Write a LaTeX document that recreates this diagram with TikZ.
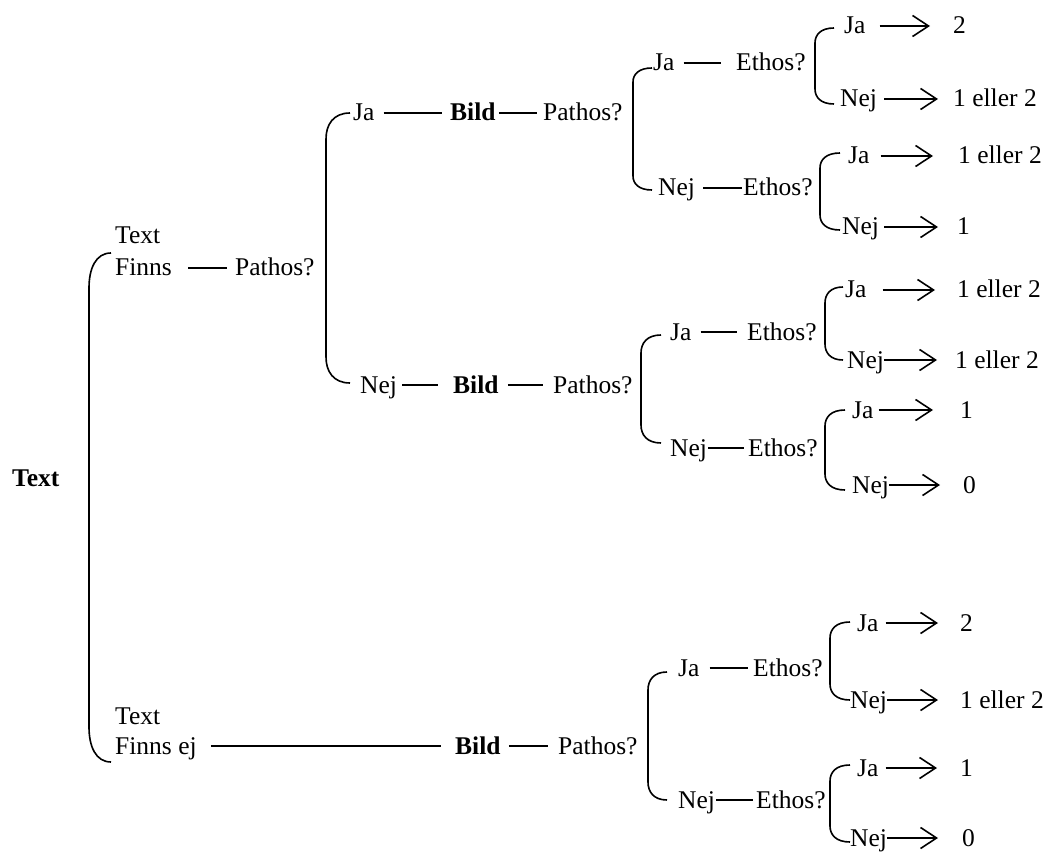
\documentclass[tikz,border=0pt]{standalone}
\usepackage{fontspec}
\setmainfont{Liberation Serif}
\usetikzlibrary{arrows.meta}

\tikzset{
  lbl/.style={anchor=west, inner sep=0pt, text height=21pt, text depth=5pt,
              font=\fontsize{25.5pt}{30pt}\selectfont},
  hd/.style={lbl, font=\fontsize{25.5pt}{30pt}\selectfont\bfseries},
  link/.style={line width=1.6pt},
  res/.style={line width=1.6pt, -{Straight Barb[length=16pt,width=21pt]}},
  trim/.style 2 args={shorten <=#1pt, shorten >=#2pt},
  brk/.style={line width=1.6pt},
}

% branching bracket: x, top y, bottom y, curl width, curl height
\newcommand\branch[5]{%
  \draw[brk] (#1+#4,#2) .. controls (#1+0.3*#4,#2) and (#1,#2+0.45*#5) .. (#1,#2+#5)
    -- (#1,#3-#5) .. controls (#1,#3-0.45*#5) and (#1+0.3*#4,#3) .. (#1+#4,#3);}

\begin{document}
\begin{tikzpicture}[x=1pt,y=-1pt]
\useasboundingbox (0,0) rectangle (1050,853);

% root
\node[hd] (root) at (12,478) {Text};
\branch{89}{253}{762}{22}{35}

% text present
\node[lbl] (t1) at (115,236) {Text};
\node[lbl] (f1) at (115,268) {Finns};
\node[lbl] (p1) at (235,268) {Pathos?};
\draw[link,trim={16}{8}] (f1) -- (p1);
\branch{326}{113}{383}{24}{26}

\node[lbl] (ja1) at (353,113) {Ja};
\node[hd]  (bild1) at (450,113) {Bild};
\node[lbl] (p2) at (543,113) {Pathos?};
\draw[link,trim={9}{8}] (ja1) -- (bild1);
\draw[link,trim={3}{6}] (bild1) -- (p2);

\node[lbl] (nej1) at (360,385) {Nej};
\node[hd]  (bild2) at (453,385) {Bild};
\node[lbl] (p3) at (553,385) {Pathos?};
\draw[link,trim={5}{15}] (nej1) -- (bild2);
\draw[link,trim={9}{10}] (bild2) -- (p3);

% text absent
\node[lbl] (t2) at (115,716) {Text};
\node[lbl] (f2) at (115,746) {Finns ej};
\node[hd]  (bild3) at (455,746) {Bild};
\node[lbl] (p4) at (558,746) {Pathos?};
\draw[link,trim={14}{14}] (f2) -- (bild3);
\draw[link,trim={8}{10}] (bild3) -- (p4);

% ---- branch A (after p2)
\branch{633}{68}{190}{19}{14}
\node[lbl] (aja) at (653,63) {Ja};
\node[lbl] (aeja) at (736,63) {Ethos?};
\draw[link,trim={9}{15}] (aja) -- (aeja);
\node[lbl] (anej) at (658,188) {Nej};
\node[lbl] (aenej) at (743,188) {Ethos?};
\draw[link,trim={8}{1}] (anej) -- (aenej);

\branch{815}{28}{104}{19}{15}
\node[lbl] (d1) at (844,26) {Ja};
\node[lbl] (d1r) at (953,26) {2};
\draw[res,trim={14}{23}] (d1) -- (d1r);
\node[lbl] (d2) at (840,99) {Nej};
\node[lbl] (d2r) at (953,99) {1 eller 2};
\draw[res,trim={7}{15}] (d2) -- (d2r);

\branch{820}{153}{230}{20}{15}
\node[lbl] (e1) at (848,156) {Ja};
\node[lbl] (e1r) at (958,156) {1 eller 2};
\draw[res,trim={11}{25}] (e1) -- (e1r);
\node[lbl] (e2) at (842,227) {Nej};
\node[lbl] (e2r) at (957,227) {1};
\draw[res,trim={5}{19}] (e2) -- (e2r);

% ---- branch B (after p3)
\branch{641}{335}{443}{20}{18}
\node[lbl] (bja) at (670,332) {Ja};
\node[lbl] (beja) at (747,332) {Ethos?};
\draw[link,trim={9}{10}] (bja) -- (beja);
\node[lbl] (bnej) at (670,448) {Nej};
\node[lbl] (benej) at (748,448) {Ethos?};
\draw[link,trim={1}{4}] (bnej) -- (benej);

\branch{825}{287}{360}{18}{16}
\node[lbl] (g1) at (845,290) {Ja};
\node[lbl] (g1r) at (957,290) {1 eller 2};
\draw[res,trim={16}{22}] (g1) -- (g1r);
\node[lbl] (g2) at (847,360) {Nej};
\node[lbl] (g2r) at (955,360) {1 eller 2};
\draw[res,trim={0}{18}] (g2) -- (g2r);

\branch{825}{410}{490}{20}{16}
\node[lbl] (h1) at (852,410) {Ja};
\node[lbl] (h1r) at (960,410) {1};
\draw[res,trim={5}{27}] (h1) -- (h1r);
\node[lbl] (h2) at (852,485) {Nej};
\node[lbl] (h2r) at (963,485) {0};
\draw[res,trim={0}{23}] (h2) -- (h2r);

% ---- branch C (after p4)
\branch{648}{672}{800}{19}{18}
\node[lbl] (cja) at (678,668) {Ja};
\node[lbl] (ceja) at (753,668) {Ethos?};
\draw[link,trim={10}{5}] (cja) -- (ceja);
\node[lbl] (cnej) at (678,800) {Nej};
\node[lbl] (cenej) at (756,800) {Ethos?};
\draw[link,trim={1}{3}] (cnej) -- (cenej);

\branch{830}{622}{700}{20}{16}
\node[lbl] (j1) at (857,623) {Ja};
\node[lbl] (j1r) at (960,623) {2};
\draw[res,trim={7}{22}] (j1) -- (j1r);
\node[lbl] (j2) at (850,700) {Nej};
\node[lbl] (j2r) at (960,700) {1 eller 2};
\draw[res,trim={0}{22}] (j2) -- (j2r);

\branch{830}{765}{842}{20}{16}
\node[lbl] (k1) at (857,768) {Ja};
\node[lbl] (k1r) at (960,768) {1};
\draw[res,trim={7}{23}] (k1) -- (k1r);
\node[lbl] (k2) at (850,838) {Nej};
\node[lbl] (k2r) at (962,838) {0};
\draw[res,trim={0}{24}] (k2) -- (k2r);
\end{tikzpicture}
\end{document}
